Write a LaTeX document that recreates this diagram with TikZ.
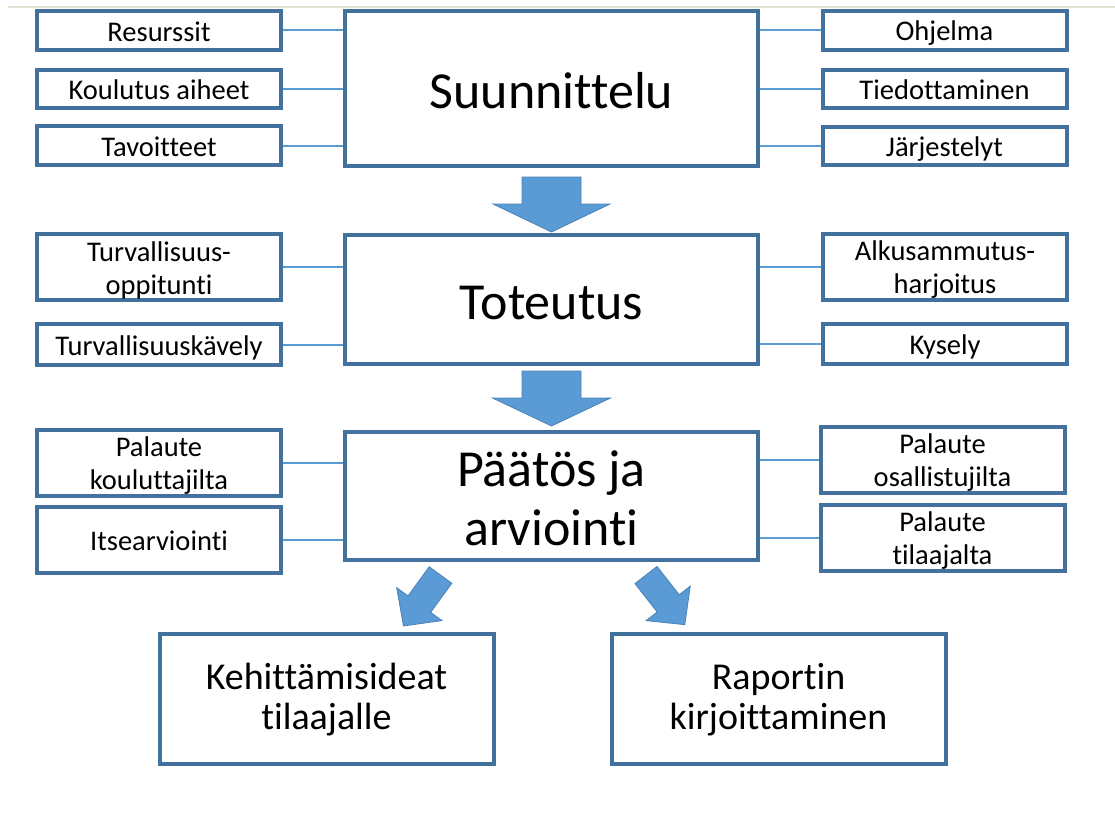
\documentclass[tikz,border=0pt]{standalone}
\usepackage{fontspec}
\setmainfont{Carlito}[Ligatures={NoCommon}]
\usetikzlibrary{calc}
\definecolor{boxblue}{HTML}{41719C}
\definecolor{linkblue}{HTML}{5B9BD5}
\definecolor{arrowfill}{HTML}{5B9BD5}
\definecolor{arrowedge}{HTML}{4A82B8}
\definecolor{topline}{RGB}{228,224,212}
\newcommand\vs{\rule[-0.13em]{0pt}{1.03em}}
\newcommand\vb{\rule[-0.24em]{0pt}{1.04em}}
\begin{document}
\begin{tikzpicture}[x=1pt,y=-1pt,
  box/.style={draw=boxblue, line width=4pt, fill=white, inner sep=1pt, align=center, text=black},
  sidebox/.style={box, minimum width=244pt, font=\fontsize{28.5}{33}\selectfont},
  mainbox/.style={box, minimum width=413pt, font=\fontsize{52}{59}\selectfont},
  endbox/.style={box, minimum width=334pt, minimum height=130pt, font=\fontsize{38}{39}\selectfont},
  link/.style={draw=linkblue, line width=2pt},
  fatarrow/.style={fill=arrowfill, draw=arrowedge, line width=0.8pt, line join=miter}
]
\useasboundingbox (0,0) rectangle (1115,816);
\fill[white] (0,0) rectangle (1115,816);
\draw[topline, line width=1.5pt] (8,7) -- (1115,7);

% ---------- Suunnittelu ----------
\node[mainbox, minimum height=155pt] (sun) at (551.5,88.5) {\vs Suunnittelu};
\node[sidebox, minimum height=39pt] (res) at (159,30.5) {\vs Resurssit};
\node[sidebox, minimum height=38pt] (kou) at (159,88.5) {\vs Koulutus aiheet};
\node[sidebox, minimum height=39pt] (tav) at (159,145.5) {\vs Tavoitteet};
\node[sidebox, minimum height=39pt] (ohj) at (944.5,30.5) {\vs Ohjelma};
\node[sidebox, minimum height=38pt] (tie) at (944.5,88.5) {\vs Tiedottaminen};
\node[sidebox, minimum height=38pt] (jar) at (944.5,146) {\vs Järjestelyt};

\foreach \n in {res,kou,tav} \draw[link] (\n.east) -- (sun.west |- \n.east);
\foreach \n in {ohj,tie,jar} \draw[link] (\n.west) -- (sun.east |- \n.west);

% ---------- Toteutus ----------
\node[mainbox, minimum height=129pt] (tot) at (551.5,299.5) {\vs Toteutus};
\node[sidebox, minimum height=64pt] (tur) at (159,267) {\vs Turvallisuus-\\\vs oppitunti};
\node[sidebox, minimum height=41pt] (tuk) at (159,344.5) {\vs Turvallisuuskävely};
\node[sidebox, minimum height=64pt] (alk) at (945,267) {\vs Alkusammutus-\\\vs harjoitus};
\node[sidebox, minimum height=40pt] (kys) at (945,344) {\vs Kysely};

\foreach \n in {tur,tuk} \draw[link] (\n.east) -- (tot.west |- \n.east);
\foreach \n in {alk,kys} \draw[link] (\n.west) -- (tot.east |- \n.west);

% ---------- Päätös ja arviointi ----------
\node[mainbox, minimum height=128pt] (paa) at (551.5,496) {\vs Päätös ja\\\vs arviointi};
\node[sidebox, minimum height=66pt] (pko) at (159,463) {\vs Palaute\\\vs kouluttajilta};
\node[sidebox, minimum height=66pt] (its) at (159,540) {\vs Itsearviointi};
\node[sidebox, minimum height=66pt] (pos) at (942.5,460) {\vs Palaute\\\vs osallistujilta};
\node[sidebox, minimum height=66pt] (pti) at (942.5,538) {\vs Palaute\\\vs tilaajalta};

\foreach \n in {pko,its} \draw[link] (\n.east) -- (paa.west |- \n.east);
\foreach \n in {pos,pti} \draw[link] (\n.west) -- (paa.east |- \n.west);

% ---------- bottom ----------
\node[endbox] (keh) at (326.5,699) {\vb Kehittämisideat\\\vb tilaajalle};
\node[endbox] (rap) at (778.5,699) {\vb Raportin\\\vb kirjoittaminen};

% ---------- block arrows ----------
\begin{scope}[shift={($(sun.south)+(0,9)$)}]
  \draw[fatarrow] (-29.5,0) -- (29.5,0) -- (29.5,27) -- (58.5,27) -- (0,55) -- (-58.5,27) -- (-29.5,27) -- cycle;
\end{scope}
\begin{scope}[shift={($(tot.south)+(0,5)$)}]
  \draw[fatarrow] (-29.5,0) -- (29.5,0) -- (29.5,27) -- (59,27) -- (0,55) -- (-59,27) -- (-29.5,27) -- cycle;
\end{scope}
\begin{scope}[shift={(440.5,575)}, rotate=-36]
  \draw[fatarrow] (-14,0) -- (14,0) -- (14,36) -- (28,36) -- (0,63) -- (-28,36) -- (-14,36) -- cycle;
\end{scope}
\begin{scope}[shift={(646,575)}, rotate=38]
  \draw[fatarrow] (-14,0) -- (14,0) -- (14,36) -- (28,36) -- (0,63) -- (-28,36) -- (-14,36) -- cycle;
\end{scope}
\end{tikzpicture}
\end{document}
